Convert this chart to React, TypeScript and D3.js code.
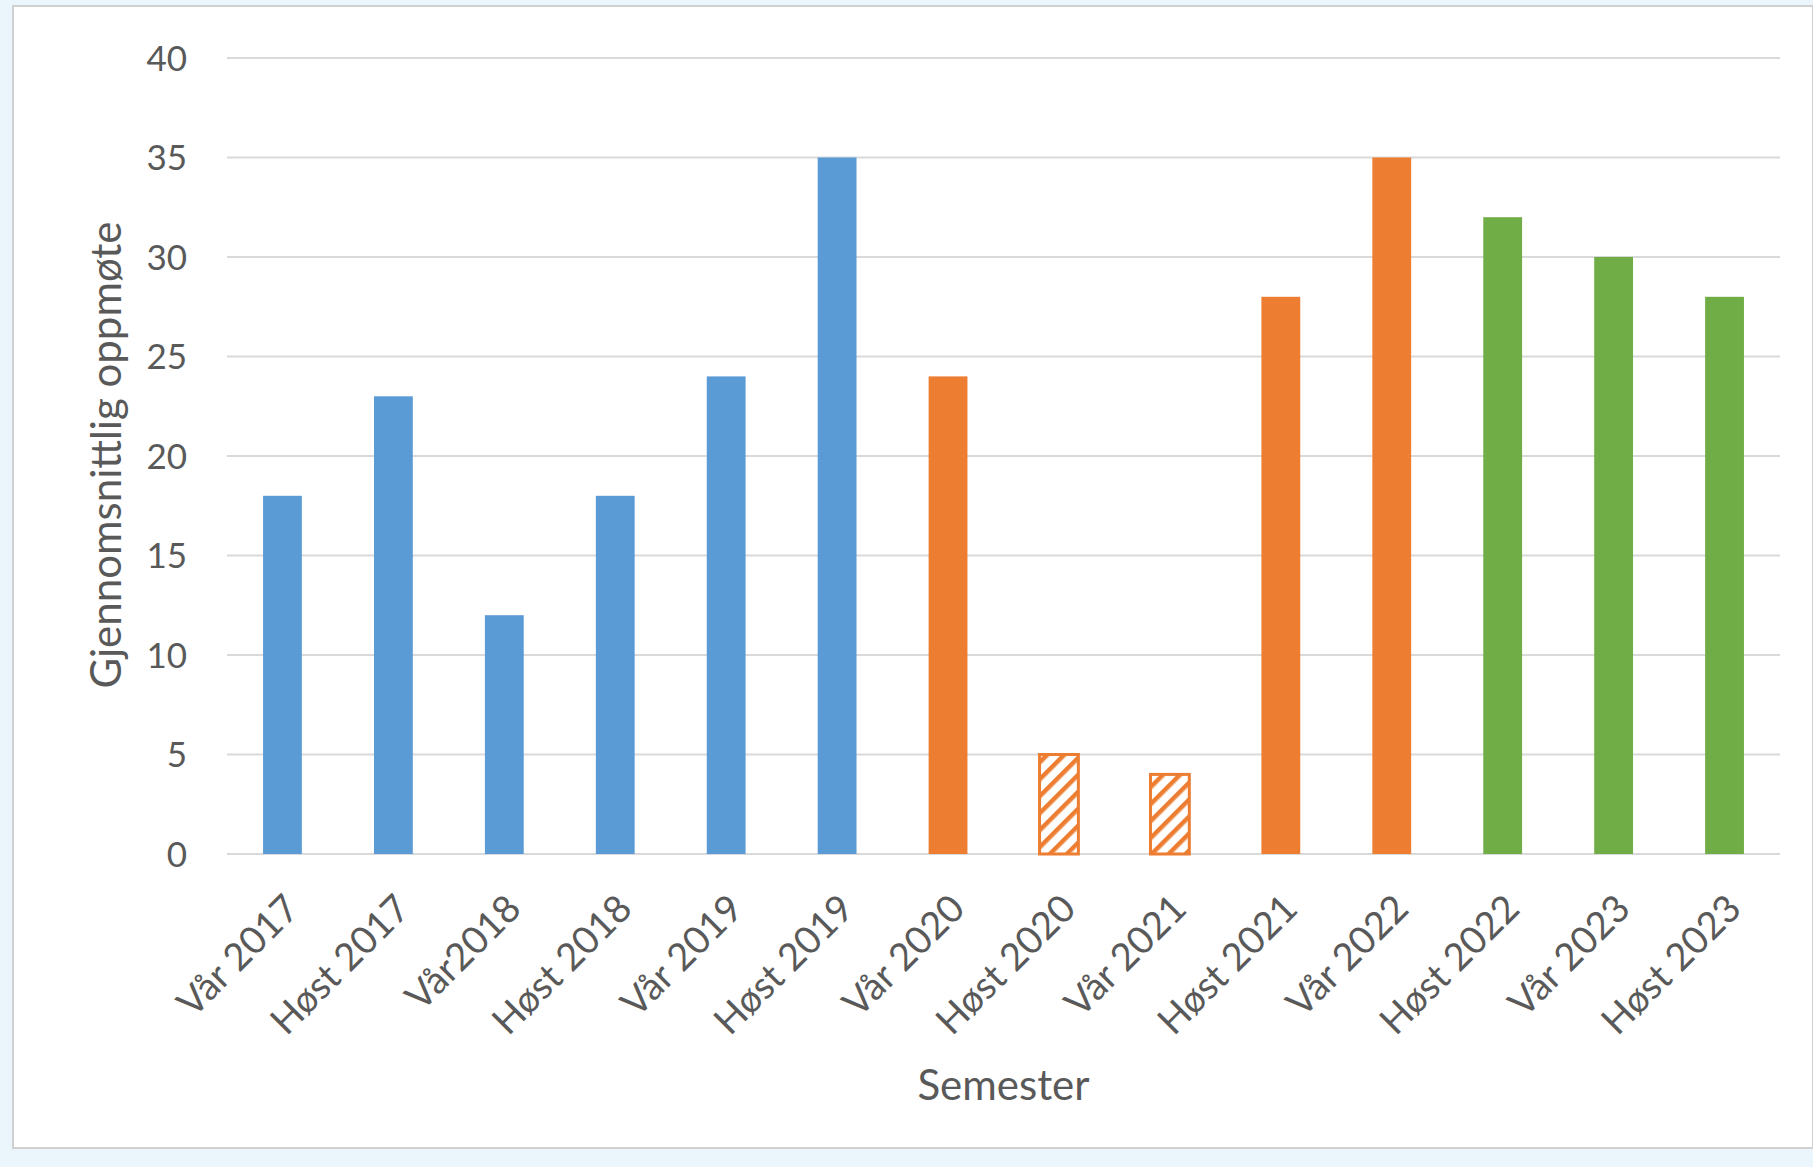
import React from "react";
import * as d3 from "d3";

const categories = ["Vår 2017", "Høst 2017", "Vår2018", "Høst 2018", "Vår 2019", "Høst 2019", "Vår 2020", "Høst 2020", "Vår 2021", "Høst 2021", "Vår 2022", "Høst 2022", "Vår 2023", "Høst 2023"];
const values = [18, 23, 12, 18, 24, 35, 24, 5, 4, 28, 35, 32, 30, 28];
const groups = ["blue", "blue", "blue", "blue", "blue", "blue", "orange", "hatch", "hatch", "orange", "orange", "green", "green", "green"];
const yTicks = [0, 5, 10, 15, 20, 25, 30, 35, 40];
const yTitle = "Gjennomsnittlig oppmøte";
const xTitle = "Semester";

const W = 1813;
const H = 1167;
const left = 227;
const right = 1780;
const top = 58;
const bottom = 854;
const FONT = "Lato, 'Open Sans', sans-serif";
const TXT = "#595959";
const colors: Record<string, string> = { blue: "#5b9bd5", orange: "#ed7d31", green: "#70ad47", hatch: "#ed7d31" };

export default function App() {
  const x = d3.scaleBand<string>().domain(categories).range([left, right]).paddingInner(0.65).paddingOuter(0.325);
  const y = d3.scaleLinear().domain([0, 40]).range([bottom, top]);
  return (
    <svg width={W} height={H} style={{ position: "absolute", left: 0, top: 0, background: "#eaf6fc" }}>
      <defs>
        <pattern id="hatch" patternUnits="userSpaceOnUse" width="12" height="12" patternTransform="rotate(45)">
          <rect width="12" height="12" fill="#fff" />
          <rect x="0" y="0" width="4.5" height="12" fill="#ed7d31" />
        </pattern>
      </defs>
      <rect x={13} y={6} width={W - 13} height={1142} fill="#ffffff" stroke="#d0d0d0" strokeWidth={2} />
      {yTicks.map((t) => (
        <g key={t}>
          <line x1={left} x2={right} y1={y(t)} y2={y(t)} stroke="#d9d9d9" strokeWidth={2} />
          <text x={187} y={y(t)} dy="0.36em" textAnchor="end" fontFamily={FONT} fontSize={35} fill={TXT}>{t}</text>
        </g>
      ))}
      {categories.map((c, i) => {
        const g = groups[i];
        const isHatch = g === "hatch";
        return (
          <rect key={c} x={x(c)!} y={y(values[i])} width={x.bandwidth()} height={y(0) - y(values[i])}
            fill={isHatch ? "url(#hatch)" : colors[g]} stroke={isHatch ? colors[g] : "none"} strokeWidth={isHatch ? 3 : 0} />
        );
      })}
      {categories.map((c) => {
        const cx = x(c)! + x.bandwidth() / 2;
        const cy = bottom + 38;
        return (
          <text key={c} transform={`translate(${cx},${cy}) rotate(-45)`} textAnchor="end" dy="0.7em" fontFamily={FONT} fontSize={38} fill={TXT}>{c}</text>
        );
      })}
      <text transform={`translate(106,455) rotate(-90)`} textAnchor="middle" dy="0.35em" fontFamily={FONT} fontSize={42} fill={TXT}>{yTitle}</text>
      <text x={(left + right) / 2} y={1085} textAnchor="middle" dy="0.35em" fontFamily={FONT} fontSize={42} fill={TXT}>{xTitle}</text>
    </svg>
  );
}
